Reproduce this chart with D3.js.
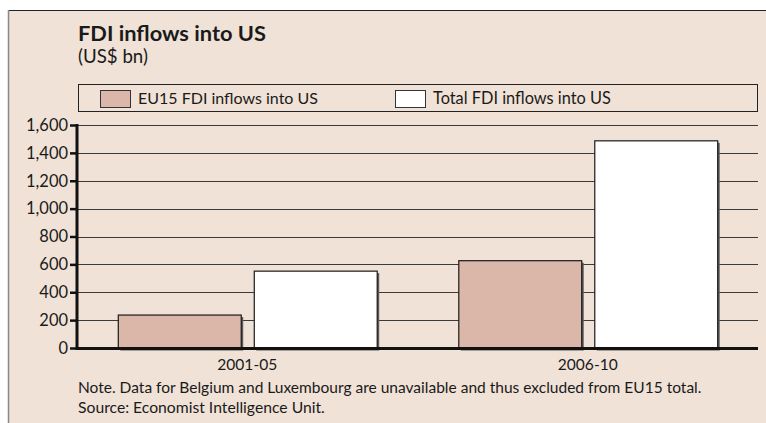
<!DOCTYPE html>
<html>
<head>
<meta charset="utf-8">
<script src="https://d3js.org/d3.v7.min.js"></script>
<style>
  body { margin: 0; background: #fff; }
  text { font-family: Lato, "Open Sans", sans-serif; fill: #1a1a1a; }
</style>
</head>
<body>
<div id="chart"></div>
<script>
// Data
const categories = ["2001-05", "2006-10"];
const seriesNames = ["EU15 FDI inflows into US", "Total FDI inflows into US"];
const eu15Values = [240, 630];
const totalValues = [555, 1490];
const yTicks = [0, 200, 400, 600, 800, 1000, 1200, 1400, 1600];
const seriesColors = ["#dbb7a9", "#ffffff"];

const width = 766, height = 423;
const bg = "#f0e2d6";

const svg = d3.select("#chart").append("svg")
  .attr("width", width)
  .attr("height", height);

// scale font-size so a text spans the width seen in the original
function fit(sel, target, base) {
  sel.style("font-size", base + "px");
  const w = sel.node().getComputedTextLength();
  const size = base * target / w;
  sel.style("font-size", size + "px");
  return size;
}

// panel background + frame
svg.append("rect").attr("x", 8).attr("y", 10).attr("width", width - 8).attr("height", height - 10).attr("fill", bg);
svg.append("line").attr("x1", 8).attr("x2", width).attr("y1", 10.5).attr("y2", 10.5).attr("stroke", "#222").attr("stroke-width", 1.2);
svg.append("line").attr("x1", 8.5).attr("x2", 8.5).attr("y1", 10).attr("y2", height).attr("stroke", "#888").attr("stroke-width", 1.5);

// titles
fit(svg.append("text").attr("x", 78).attr("y", 41).text("FDI inflows into US")
  .style("font-weight", "bold"), 188, 20);
fit(svg.append("text").attr("x", 78).attr("y", 63).text("(US$ bn)"), 70, 16);

// legend
const legend = svg.append("g");
legend.append("rect").attr("x", 78.5).attr("y", 84.5).attr("width", 679).attr("height", 27)
  .attr("fill", "none").attr("stroke", "#222").attr("stroke-width", 1);
const legendX = [100, 395];
const legendW = [180, 178];
seriesNames.forEach((name, i) => {
  legend.append("rect").attr("x", legendX[i] + 0.5).attr("y", 90.5).attr("width", 30).attr("height", 17)
    .attr("fill", seriesColors[i]).attr("stroke", "#333").attr("stroke-width", 1);
  fit(legend.append("text").attr("x", legendX[i] + 38).attr("y", 104).text(name), legendW[i], 15);
});

// scales
const x0 = d3.scaleBand().domain(categories).range([77, 758]).padding(0);
const x1 = d3.scaleBand().domain(seriesNames).range([0, x0.bandwidth()])
  .paddingInner(0.096).paddingOuter(0.3);
const y = d3.scaleLinear().domain([0, 1600]).range([348, 125]);

// gridlines
svg.append("g").selectAll("line").data(yTicks.filter(d => d > 0)).join("line")
  .attr("x1", 77).attr("x2", 758)
  .attr("y1", d => Math.round(y(d)) + 0.5).attr("y2", d => Math.round(y(d)) + 0.5)
  .attr("stroke", "#3a3a3a").attr("stroke-width", 1.2);

// bars
const rows = categories.map((c, i) => ({ cat: c, values: [eu15Values[i], totalValues[i]] }));
const groups = svg.append("g").selectAll("g").data(rows).join("g")
  .attr("transform", d => `translate(${x0(d.cat)},0)`);

// shadows
groups.selectAll("rect.shadow").data(d => d.values.map((v, i) => ({ s: seriesNames[i], v, i }))).join("rect")
  .attr("class", "shadow")
  .attr("x", d => x1(d.s) + 2.5).attr("y", d => y(d.v) + 2.5)
  .attr("width", x1.bandwidth()).attr("height", d => y(0) - y(d.v))
  .attr("fill", "#5a5a5a");

groups.selectAll("rect.bar").data(d => d.values.map((v, i) => ({ s: seriesNames[i], v, i }))).join("rect")
  .attr("class", "bar")
  .attr("x", d => x1(d.s) + 0.5).attr("y", d => y(d.v) + 0.5)
  .attr("width", x1.bandwidth()).attr("height", d => y(0) - y(d.v))
  .attr("fill", d => seriesColors[d.i]).attr("stroke", "#1a1a1a").attr("stroke-width", 1.2);

// y axis
const yAxis = d3.axisLeft(y).tickValues(yTicks).tickSize(7).tickPadding(2)
  .tickFormat(d3.format(","));
const yg = svg.append("g").attr("transform", "translate(77,0)").call(yAxis);
yg.select(".domain").remove();
yg.selectAll(".tick line").attr("stroke", "#111").attr("stroke-width", 2.5);
yg.selectAll(".tick text").attr("fill", "#1a1a1a").style("font-family", "Lato, sans-serif");
const topTick = yg.selectAll(".tick text").filter(d => d === 1600);
const tickSize = fit(topTick, 42, 15);
yg.selectAll(".tick text").style("font-size", tickSize + "px");
svg.append("line").attr("x1", 77).attr("x2", 77).attr("y1", 124).attr("y2", 350)
  .attr("stroke", "#111").attr("stroke-width", 3);

// baseline
svg.append("line").attr("x1", 76).attr("x2", 758).attr("y1", 348.5).attr("y2", 348.5)
  .attr("stroke", "#111").attr("stroke-width", 3);

// x axis labels
const xAxis = d3.axisBottom(x0).tickSize(0).tickPadding(7);
const xg = svg.append("g").attr("transform", "translate(0,352)").call(xAxis);
xg.select(".domain").remove();
xg.selectAll(".tick text").attr("fill", "#1a1a1a").style("font-family", "Lato, sans-serif");
const xSize = fit(xg.selectAll(".tick text").filter(d => d === categories[0]), 60, 15);
xg.selectAll(".tick text").style("font-size", xSize + "px");

// notes
fit(svg.append("text").attr("x", 78).attr("y", 393)
  .text("Note. Data for Belgium and Luxembourg are unavailable and thus excluded from EU15 total."), 624, 14);
fit(svg.append("text").attr("x", 78).attr("y", 413)
  .text("Source: Economist Intelligence Unit."), 247, 14);
</script>
</body>
</html>
